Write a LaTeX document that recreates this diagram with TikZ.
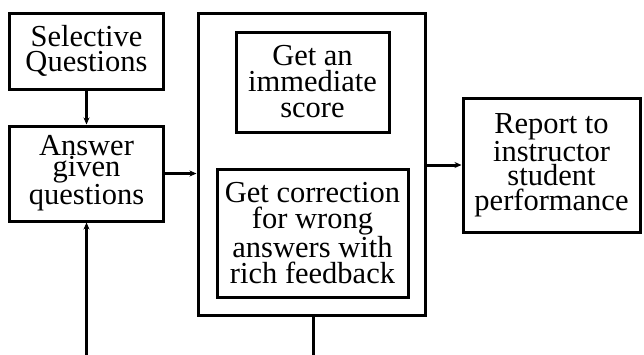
\documentclass[tikz,border=0pt]{standalone}
\usepackage{fontspec}
\setmainfont{Liberation Serif}
\usetikzlibrary{arrows.meta}
\begin{document}
\begin{tikzpicture}[x=1bp,y=-1bp,
  box/.style={draw,line width=3bp,rectangle,inner sep=0pt,align=center,
    font=\fontsize{30.5bp}{25bp}\selectfont},
  link/.style={line width=3bp,-{Stealth[length=7bp,width=6bp]}},
  plain/.style={line width=3bp}]
\useasboundingbox (0,0) rectangle (644,354);
% outer frame of the feedback stage
\node[box,minimum width=227bp,minimum height=302bp] (big) at (311.5,164) {};
\node[box,minimum width=153bp,minimum height=76bp] (sel) at (86.5,51)
  {Selective\\Questions};
\node[box,minimum width=153bp,minimum height=95bp,
  font=\fontsize{30.5bp}{21bp}\selectfont] (ans) at (86.5,173.5)
  {Answer\\given\\questions};
\node[box,minimum width=153bp,minimum height=100bp,
  font=\fontsize{30.5bp}{26bp}\selectfont] (score) at (312.5,82)
  {Get an\\immediate\\score};
\node[box,minimum width=191bp,minimum height=128bp,
  font=\fontsize{30.5bp}{26bp}\selectfont] (corr) at (312.5,233)
  {Get correction\\for wrong\\answers with\\rich feedback};
\node[box,minimum width=177bp,minimum height=134bp,
  font=\fontsize{30.5bp}{24.5bp}\selectfont] (rep) at (551.5,165)
  {Report to\\instructor\\student\\performance};
\coordinate (inbot) at (86.5,360);
\coordinate (outbot) at (313,360);
% connectors
\draw[link] (sel) -- (ans);
\draw[link] (inbot) -- (ans);
\draw[link] (ans.east) -- (ans.east -| big.west);
\draw[link] (big.east |- rep.west) -- (rep.west);
\draw[plain] (big.south -| outbot) -- (outbot);
\end{tikzpicture}
\end{document}
